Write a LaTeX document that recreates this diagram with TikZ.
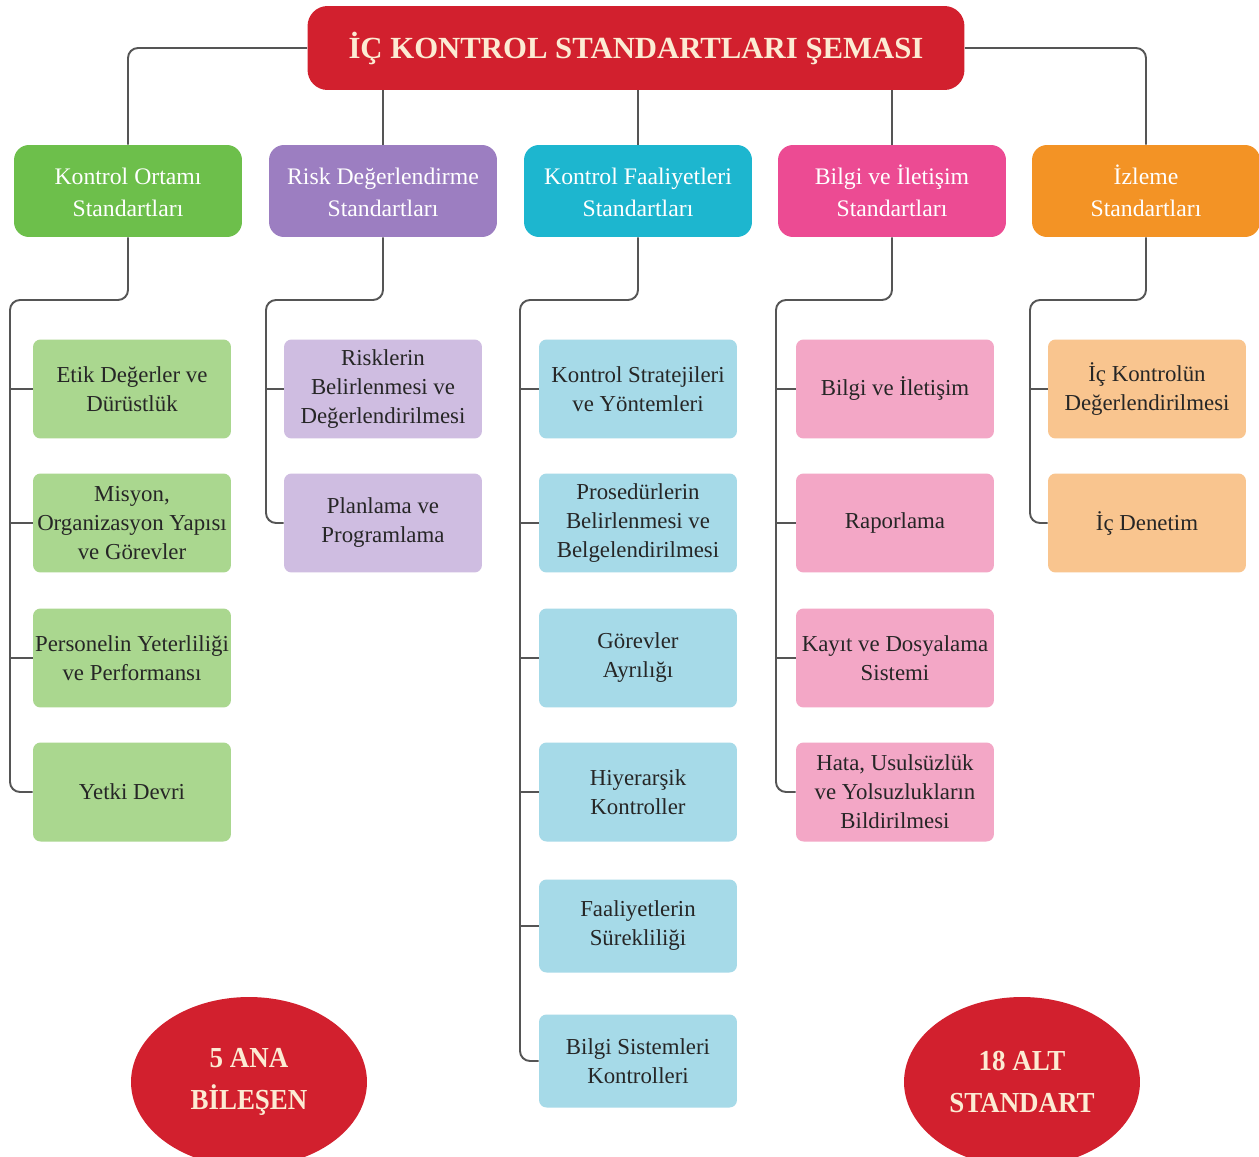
\documentclass[tikz,border=0pt]{standalone}
\usepackage{fontspec}
\setmainfont{Liberation Serif}
\newfontfamily\condserif{Liberation Serif}[FakeStretch=0.93]
\usetikzlibrary{shapes.geometric}
\definecolor{titlered}{HTML}{D2202E}
\definecolor{cream}{HTML}{FCEBD3}
\definecolor{hgreen}{HTML}{6DBF4B}
\definecolor{hpurple}{HTML}{9C7EC1}
\definecolor{hcyan}{HTML}{1DB6CF}
\definecolor{hpink}{HTML}{EC4B93}
\definecolor{horange}{HTML}{F39325}
\definecolor{sgreen}{HTML}{AAD78F}
\definecolor{spurple}{HTML}{CFBDE1}
\definecolor{sblue}{HTML}{A6DAE8}
\definecolor{spink}{HTML}{F3A7C6}
\definecolor{sorange}{HTML}{F9C58F}
\definecolor{txt}{HTML}{262626}
\definecolor{linegray}{HTML}{555555}
\newcommand{\hstrut}{\vphantom{İ}}
\tikzset{
  titlebox/.style={fill=titlered, rounded corners=0.4cm, minimum width=13.14cm, minimum height=1.68cm, inner sep=0pt, text=cream, font=\fontsize{17.5}{20}\selectfont\bfseries},
  hdr/.style={rounded corners=0.3cm, minimum width=4.56cm, minimum height=1.84cm, inner sep=0pt, text=white, align=center, font=\fontsize{13.5}{18.5}\selectfont},
  sub/.style={rounded corners=0.15cm, minimum width=3.96cm, minimum height=1.98cm, inner sep=0pt, text=txt, align=center, font=\fontsize{13}{16.5}\selectfont},
  conn/.style={draw=linegray, line width=1.1pt, rounded corners=0.2cm},
  tick/.style={draw=linegray, line width=1.1pt},
  oval/.style={ellipse, fill=titlered, minimum width=4.72cm, minimum height=3.4cm, inner sep=0pt, text=cream, align=center, font=\condserif\fontsize{16.5}{24}\selectfont\bfseries}
}
\begin{document}
\begin{tikzpicture}[x=0.02cm, y=-0.02cm]
\useasboundingbox (0,0) rectangle (1259,1157);
\fill[white] (0,0) rectangle (1259,1157);

% title
\node[titlebox] (title) at (636,48) {İÇ KONTROL STANDARTLARI ŞEMASI};

% headers
\node[hdr, fill=hgreen]  (h1) at (128,191)  {\hstrut Kontrol Ortamı\\Standartları};
\node[hdr, fill=hpurple] (h2) at (383,191)  {\hstrut Risk Değerlendirme\\Standartları};
\node[hdr, fill=hcyan]   (h3) at (638,191)  {\hstrut Kontrol Faaliyetleri\\Standartları};
\node[hdr, fill=hpink]   (h4) at (892,191)  {\hstrut Bilgi ve İletişim\\Standartları};
\node[hdr, fill=horange] (h5) at (1146,191) {\hstrut İzleme\\Standartları};

% title connectors
\draw[conn] (title.west) -| (h1.north);
\draw[conn] (title.east) -| (h5.north);
\draw[tick] (h2.north) -- (h2.north |- title.south);
\draw[tick] (h3.north) -- (h3.north |- title.south);
\draw[tick] (h4.north) -- (h4.north |- title.south);

% column 1
\node[sub, fill=sgreen] (a1) at (132,389) {Etik Değerler ve\\Dürüstlük};
\node[sub, fill=sgreen] (a2) at (132,523) {Misyon,\\Organizasyon Yapısı\\ve Görevler};
\node[sub, fill=sgreen] (a3) at (132,658) {Personelin Yeterliliği\\ve Performansı};
\node[sub, fill=sgreen] (a4) at (132,792) {Yetki Devri};
\coordinate (b1) at (10,300);
\draw[conn] (h1.south) |- (b1) |- (a4.west);
\foreach \n in {a1,a2,a3} \draw[tick] (\n.west) -- (\n.west -| b1);

% column 2
\node[sub, fill=spurple] (p1) at (383,389) {Risklerin\\Belirlenmesi ve\\Değerlendirilmesi};
\node[sub, fill=spurple] (p2) at (383,523) {Planlama ve\\Programlama};
\coordinate (b2) at (266,300);
\draw[conn] (h2.south) |- (b2) |- (p2.west);
\draw[tick] (p1.west) -- (p1.west -| b2);

% column 3
\node[sub, fill=sblue] (k1) at (638,389)  {Kontrol Stratejileri\\ve Yöntemleri};
\node[sub, fill=sblue] (k2) at (638,523)  {Prosedürlerin\\Belirlenmesi ve\\Belgelendirilmesi};
\node[sub, fill=sblue] (k3) at (638,658)  {Görevler\\Ayrılığı};
\node[sub, fill=sblue] (k4) at (638,792)  {Hiyerarşik\\Kontroller};
\node[sub, fill=sblue, minimum height=1.86cm] (k5) at (638,926)  {Faaliyetlerin\\Sürekliliği};
\node[sub, fill=sblue, minimum height=1.86cm] (k6) at (638,1061) {Bilgi Sistemleri\\Kontrolleri};
\coordinate (b3) at (520,300);
\draw[conn] (h3.south) |- (b3) |- (k6.west);
\foreach \n in {k1,k2,k3,k4,k5} \draw[tick] (\n.west) -- (\n.west -| b3);

% column 4
\node[sub, fill=spink] (i1) at (895,389) {Bilgi ve İletişim};
\node[sub, fill=spink] (i2) at (895,523) {Raporlama};
\node[sub, fill=spink] (i3) at (895,658) {Kayıt ve Dosyalama\\Sistemi};
\node[sub, fill=spink] (i4) at (895,792) {Hata, Usulsüzlük\\ve Yolsuzlukların\\Bildirilmesi};
\coordinate (b4) at (776,300);
\draw[conn] (h4.south) |- (b4) |- (i4.west);
\foreach \n in {i1,i2,i3} \draw[tick] (\n.west) -- (\n.west -| b4);

% column 5
\node[sub, fill=sorange] (z1) at (1147,389) {İç Kontrolün\\Değerlendirilmesi};
\node[sub, fill=sorange] (z2) at (1147,523) {İç Denetim};
\coordinate (b5) at (1030,300);
\draw[conn] (h5.south) |- (b5) |- (z2.west);
\draw[tick] (z1.west) -- (z1.west -| b5);

% ovals
\node[oval] (o1) at (249,1082)  {5 ANA\\BİLEŞEN};
\node[oval] (o2) at (1022,1082) {18 ALT\\STANDART};
\end{tikzpicture}
\end{document}
